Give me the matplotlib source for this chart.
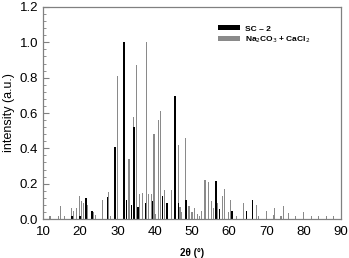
import matplotlib.pyplot as plt
from matplotlib.ticker import MultipleLocator

# peak positions (2theta, deg) and relative intensities
sc2_pos = [17.8, 19.9, 21.6, 23.0, 23.3, 27.3, 29.4, 31.8, 32.4, 33.7, 34.5,
           35.5, 37.5, 39.4, 42.1, 43.25, 45.5, 46.4, 48.4, 56.4, 57.4, 60.7,
           64.7, 66.3]
sc2_int = [0.02, 0.02, 0.12, 0.045, 0.045, 0.127, 0.41, 1.0, 0.11, 0.08, 0.52,
           0.07, 0.09, 0.10, 0.13, 0.09, 0.695, 0.09, 0.11, 0.215, 0.057, 0.045,
           0.045, 0.105]

mix_pos = [11.9, 14.1, 14.7, 15.9, 17.7, 18.3, 19.0, 19.7, 20.3, 20.8, 21.9,
           23.6, 24.2, 26.0, 27.7, 28.1, 30.1, 33.1, 34.2, 35.2, 36.0, 36.7,
           37.9, 38.4, 39.2, 39.8, 40.2, 41.1, 41.5, 42.6, 44.4, 46.5, 46.8,
           47.3, 48.2, 49.2, 50.0, 50.8, 51.4, 52.1, 52.6, 53.5, 54.55, 55.3,
           55.8, 56.9, 58.3, 58.8, 59.8, 60.45, 61.9, 63.8, 67.3, 67.9, 70.0,
           71.9, 72.2, 73.9, 74.5, 76.0, 77.9, 80.0, 82.0, 84.0, 86.0, 88.0]
mix_int = [0.02, 0.02, 0.075, 0.02, 0.06, 0.045, 0.065, 0.13, 0.10, 0.09, 0.08,
           0.04, 0.025, 0.105, 0.155, 0.02, 0.81, 0.34, 0.58, 0.87, 0.14, 0.15,
           1.0, 0.14, 0.14, 0.48, 0.03, 0.56, 0.61, 0.165, 0.165, 0.42, 0.07,
           0.04, 0.46, 0.075, 0.04, 0.06, 0.03, 0.02, 0.045, 0.22, 0.21, 0.10,
           0.06, 0.09, 0.13, 0.17, 0.04, 0.108, 0.02, 0.09, 0.078, 0.02, 0.045,
           0.025, 0.06, 0.02, 0.075, 0.035, 0.02, 0.04, 0.02, 0.02, 0.02, 0.02]

plt.rcParams['font.family'] = ['Liberation Sans', 'DejaVu Sans']

fig = plt.figure(figsize=(3.49, 2.58), dpi=100)
ax = fig.add_axes([0.123, 0.151, 0.854, 0.822])

ax.bar(mix_pos, mix_int, width=0.3, color='#8a8a8a', linewidth=0,
       label='Na$_2$CO$_3$ + CaCl$_2$')
ax.bar(sc2_pos, sc2_int, width=0.38, color='black', linewidth=0, label='SC – 2')

ax.set_xlim(10, 90)
ax.set_ylim(0, 1.2)
ax.xaxis.set_major_locator(MultipleLocator(10))
ax.yaxis.set_major_locator(MultipleLocator(0.2))
ax.yaxis.set_minor_locator(MultipleLocator(0.04))
ax.tick_params(axis='y', which='major', direction='in', length=4, width=0.8,
               color='#808080', labelsize=9.5)
ax.tick_params(axis='y', which='minor', direction='in', length=2, width=0.6,
               color='#808080')
ax.tick_params(axis='x', length=0, labelsize=9.5, pad=5)
for s in ax.spines.values():
    s.set_color('#808080')
    s.set_linewidth(0.9)

ax.set_xlabel('2θ (°)', fontsize=7, fontweight='bold', labelpad=7)
ax.set_ylabel('intensity (a.u.)', fontsize=9, labelpad=3)

handles, labels = ax.get_legend_handles_labels()
leg = ax.legend(handles[::-1], labels[::-1], loc='upper left',
                bbox_to_anchor=(0.575, 0.935), frameon=False, fontsize=6,
                handlelength=2.6, handleheight=0.6, labelspacing=0.2,
                handletextpad=0.6, borderpad=0)
for t in leg.get_texts():
    t.set_fontweight('bold')

fig.savefig('out.png', dpi=100)
